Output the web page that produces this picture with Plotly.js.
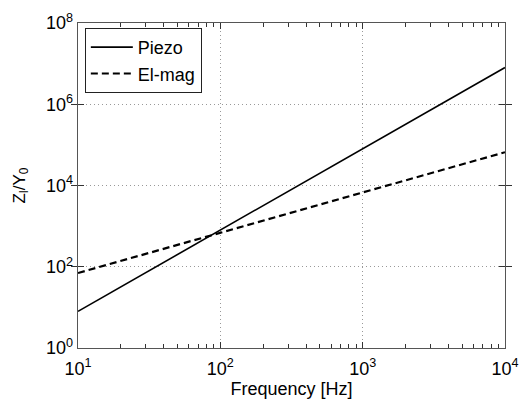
<!DOCTYPE html>
<html>
<head>
<meta charset="utf-8">
<script src="https://cdn.plot.ly/plotly-3.0.1.min.js"></script>
<style>html,body{margin:0;padding:0;background:#fff;}#chart{width:520px;height:403px;}</style>
</head>
<body>
<div id="chart"></div>
<script>
const freq = [10, 100, 1000, 10000];
const piezo = [8, 800, 80000, 8000000];
const elmag = [70, 680, 6700, 66000];
const xTickVals = [10, 100, 1000, 10000];
const xTickText = ['10<sup>1</sup>', '10<sup>2</sup>', '10<sup>3</sup>', '10<sup>4</sup>'];
const xMinorVals = [20,30,40,50,60,70,80,90,200,300,400,500,600,700,800,900,2000,3000,4000,5000,6000,7000,8000,9000];
const yTickVals = [1, 100, 10000, 1000000, 100000000];
const yTickText = ['10<sup>0</sup>', '10<sup>2</sup>', '10<sup>4</sup>', '10<sup>6</sup>', '10<sup>8</sup>'];

const fam = 'Liberation Sans, Arial, Helvetica, sans-serif';
const font = {family: fam, size: 18, color: '#000'};

const traces = [
  {x: freq, y: piezo, name: 'Piezo', mode: 'lines', type: 'scatter',
   line: {color: '#000', width: 1.6, dash: 'solid'}},
  {x: freq, y: elmag, name: 'El-mag', mode: 'lines', type: 'scatter',
   line: {color: '#000', width: 2.2, dash: '7px,4px'}},
  {x: [], y: [], xaxis: 'x2', yaxis: 'y', mode: 'lines', type: 'scatter',
   showlegend: false, hoverinfo: 'skip'}
];

const axisLine = {showline: true, linecolor: '#555', linewidth: 1.3, mirror: 'allticks', zeroline: false};

const layout = {
  width: 520, height: 403,
  margin: {l: 78, r: 15, t: 23, b: 55},
  paper_bgcolor: '#fff', plot_bgcolor: '#fff',
  font: font,
  showlegend: true,
  legend: {x: 0.016, y: 0.985, xanchor: 'left', yanchor: 'top',
           bordercolor: '#222', borderwidth: 1, bgcolor: '#fff',
           font: {family: fam, size: 18, color: '#000'},
           tracegroupgap: 0, itemwidth: 42},
  xaxis: Object.assign({
    type: 'log', range: [1, 4], automargin: false,
    tickmode: 'array', tickvals: xTickVals, ticktext: xTickText,
    ticks: 'inside', ticklen: 6, tickcolor: '#333', tickwidth: 1,
    ticklabelstandoff: 4,
    showgrid: true, gridcolor: '#999', griddash: '1px,3px', gridwidth: 1,
    tickfont: {family: fam, size: 18, color: '#000'},
    title: {text: 'Frequency [Hz]', font: {family: fam, size: 18, color: '#000'}, standoff: 2}
  }, axisLine),
  xaxis2: Object.assign({
    type: 'log', range: [1, 4], automargin: false, overlaying: 'x', side: 'bottom', anchor: 'y',
    tickmode: 'array', tickvals: xMinorVals, showticklabels: false,
    ticks: 'inside', ticklen: 4, tickcolor: '#333', tickwidth: 1,
    showgrid: false
  }, axisLine),
  yaxis: Object.assign({
    type: 'log', range: [0, 8], automargin: false,
    tickmode: 'array', tickvals: yTickVals, ticktext: yTickText,
    ticks: 'inside', ticklen: 6, tickcolor: '#333', tickwidth: 1,
    showgrid: true, gridcolor: '#999', griddash: '1px,3px', gridwidth: 1,
    tickfont: {family: fam, size: 18, color: '#000'},
    title: {text: 'Z<sub>l</sub>/Y<sub>0</sub>', font: {family: fam, size: 17, color: '#000'}, standoff: 16}
  }, axisLine)
};

Plotly.newPlot('chart', traces, layout, {displayModeBar: false, staticPlot: true});
</script>
</body>
</html>
